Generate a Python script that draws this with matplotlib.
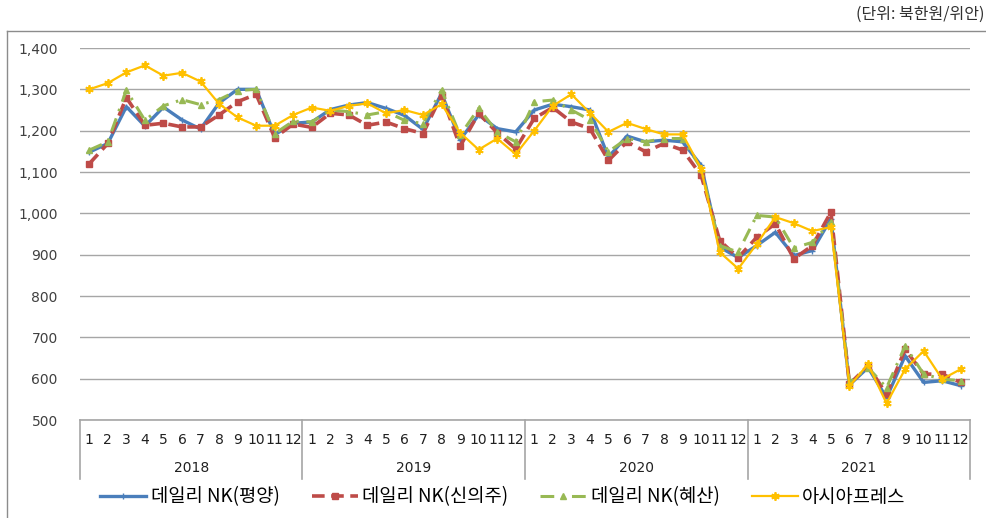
from matplotlib import pyplot as plt
from matplotlib.lines import Line2D
from matplotlib.transforms import blended_transform_factory

years = ['2018', '2019', '2020', '2021']
months = [str(m) for m in range(1, 13)]

# 북한원/위안, 2018.1 ~ 2021.12
pyongyang = [1148, 1169, 1258, 1211, 1257, 1226, 1204, 1267, 1300, 1300, 1190, 1218,
             1221, 1251, 1262, 1268, 1254, 1237, 1203, 1290, 1178, 1238, 1205, 1197,
             1250, 1264, 1258, 1250, 1136, 1187, 1173, 1177, 1173, 1116, 918, 893,
             922, 954, 898, 910, 987, 585, 627, 554, 655, 591, 595, 583]
sinuiju = [1120, 1169, 1280, 1213, 1218, 1209, 1209, 1238, 1270, 1288, 1183, 1216,
           1208, 1242, 1238, 1213, 1221, 1205, 1193, 1286, 1162, 1242, 1195, 1156,
           1230, 1256, 1221, 1205, 1128, 1173, 1149, 1169, 1153, 1092, 934, 893,
           942, 975, 890, 922, 1003, 587, 631, 562, 671, 611, 611, 591]
hyesan = [1153, 1173, 1298, 1225, 1260, 1275, 1263, 1275, 1297, 1300, 1193, 1223,
          1221, 1250, 1246, 1238, 1246, 1225, 1217, 1298, 1189, 1254, 1197, 1173,
          1270, 1274, 1250, 1226, 1149, 1181, 1173, 1181, 1181, 1108, 922, 906,
          995, 991, 916, 930, 979, 591, 627, 578, 679, 611, 599, 595]
asiapress = [1300, 1315, 1341, 1358, 1333, 1340, 1319, 1265, 1232, 1212, 1212, 1238,
             1256, 1248, 1260, 1266, 1242, 1250, 1238, 1264, 1195, 1154, 1181, 1143,
             1200, 1260, 1288, 1243, 1197, 1219, 1204, 1191, 1191, 1108, 906, 866,
             926, 991, 976, 957, 967, 582, 635, 540, 623, 667, 599, 623]

series_names = ['데일리 NK(평양)', '데일리 NK(신의주)', '데일리 NK(혜산)', '아시아프레스']
y_ticks = [500, 600, 700, 800, 900, 1000, 1100, 1200, 1300, 1400]

kr_font = ['Noto Sans CJK KR', 'DejaVu Sans']
grid_c = '#A6A6A6'
frame_c = '#8C8C8C'


def draw_chart():
    plt.rcParams['font.family'] = ['DejaVu Sans', 'Noto Sans CJK KR']
    fig = plt.figure(figsize=(9.87, 5.18), dpi=100)
    ax = fig.add_axes([80 / 987, 1 - 420 / 518, 890 / 987, 372 / 518])

    x = list(range(len(pyongyang)))
    ax.plot(x, pyongyang, color='#4A7EBB', lw=2.4, marker='+', ms=4, mew=1,
            label=series_names[0])
    ax.plot(x, sinuiju, color='#BE4B48', lw=2.6, ls=(0, (3.5, 1.8)), marker='s', ms=4,
            label=series_names[1])
    ax.plot(x, hyesan, color='#98B954', lw=2.2, ls=(0, (4.5, 2.5, 0.8, 2.5)), marker='^',
            ms=4.5, label=series_names[2])
    ax.plot(x, asiapress, color='#FFC000', lw=1.6, marker=(6, 2, 0), ms=6, mew=1.3,
            label=series_names[3])

    ax.set_xlim(-0.5, len(x) - 0.5)
    ax.set_ylim(500, 1400)
    ax.set_yticks(y_ticks)
    ax.set_yticklabels([f'{v:,}' for v in y_ticks], fontsize=10, color='#404040')
    ax.set_xticks(x)
    ax.set_xticklabels(months * len(years), fontsize=10, color='#202020')
    ax.tick_params(axis='both', length=0)
    ax.tick_params(axis='y', pad=16)
    ax.tick_params(axis='x', pad=9)
    ax.grid(axis='y', color=grid_c, lw=1.0)
    ax.set_axisbelow(True)
    for s in ['left', 'right', 'top']:
        ax.spines[s].set_visible(False)
    ax.spines['bottom'].set_color(grid_c)
    ax.spines['bottom'].set_linewidth(1.2)

    # 연도 구분
    trans = blended_transform_factory(ax.transData, ax.transAxes)
    for i in range(len(years) + 1):
        xs = i * 12 - 0.5
        ax.add_line(Line2D([xs, xs], [0, -59 / 372], transform=trans, color=grid_c,
                           lw=1.2, clip_on=False))
    for i, yr in enumerate(years):
        ax.text(i * 12 + 5.5, -48 / 372, yr, transform=trans, ha='center', va='center',
                fontsize=10, color='#202020')

    # 외곽선
    fig.add_artist(Line2D([7 / 987, 7 / 987], [0, 1 - 31 / 518], color=frame_c, lw=1))
    fig.add_artist(Line2D([7 / 987, 1], [1 - 31 / 518, 1 - 31 / 518], color=frame_c, lw=1))

    fig.text(985 / 987, 1 - 14 / 518, '(단위: 북한원/위안)', ha='right', va='center',
             fontsize=11.5, family=kr_font, color='#303030')

    fig.legend(loc='center', bbox_to_anchor=(503 / 987, 1 - 497 / 518), ncol=4,
               frameon=False, prop={'family': kr_font, 'size': 13.5}, numpoints=1,
               handlelength=2.45, handletextpad=0.25, columnspacing=1.7)

    fig.savefig('out.png', dpi=100)


if __name__ == '__main__':
    draw_chart()
